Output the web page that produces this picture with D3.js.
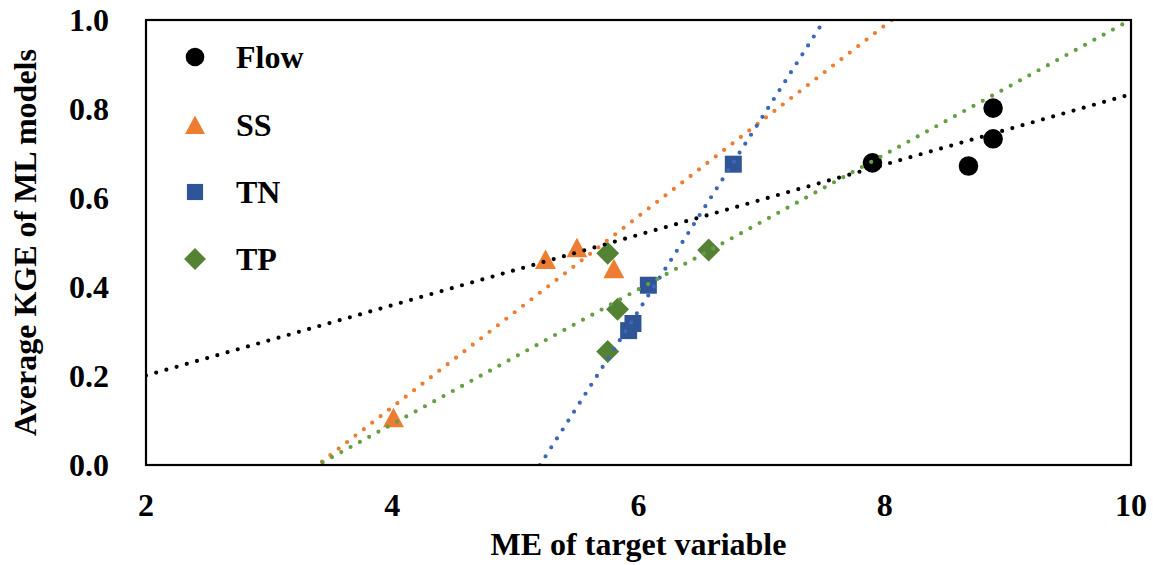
<!DOCTYPE html>
<html>
<head>
<meta charset="utf-8">
<script src="https://cdn.jsdelivr.net/npm/d3@7"></script>
<style>
  html, body { margin: 0; padding: 0; background: #fff; }
  svg text { font-family: "Liberation Serif", "Times New Roman", serif; font-weight: bold; fill: #000; }
</style>
</head>
<body>
<svg id="chart" width="1153" height="565"></svg>
<script>
// Average KGE of ML models vs ME of target variable
const seriesNames = ["Flow", "SS", "TN", "TP"];
const flowME  = [7.90, 8.88, 8.88, 8.68];
const flowKGE = [0.679, 0.802, 0.733, 0.672];
const ssME    = [4.01, 5.245, 5.50, 5.80];
const ssKGE   = [0.106, 0.462, 0.488, 0.441];
const tnME    = [5.92, 5.955, 6.08, 6.77];
const tnKGE   = [0.302, 0.318, 0.404, 0.676];
const tpME    = [5.75, 5.83, 5.75, 6.57];
const tpKGE   = [0.255, 0.350, 0.476, 0.483];
const xTicks = [2, 4, 6, 8, 10];
const yTicks = [0, 0.2, 0.4, 0.6, 0.8, 1.0];

const width = 1153, height = 565;
const margin = { top: 20, right: 22, bottom: 100, left: 146 };

const svg = d3.select("#chart");
svg.selectAll("*").remove();

const x = d3.scaleLinear().domain([2, 10]).range([margin.left, width - margin.right]);
const y = d3.scaleLinear().domain([0, 1]).range([height - margin.bottom, margin.top]);

const series = [
  { name: "Flow", xs: flowME, ys: flowKGE, shape: "circle",   fill: "#000000", line: "#000000" },
  { name: "SS",   xs: ssME,   ys: ssKGE,   shape: "triangle", fill: "#ED7D31", line: "#ED7D31" },
  { name: "TN",   xs: tnME,   ys: tnKGE,   shape: "square",   fill: "#2F5597", line: "#3B67B8" },
  { name: "TP",   xs: tpME,   ys: tpKGE,   shape: "diamond",  fill: "#548235", line: "#64A043" }
];

// marker outlines centred on 0,0
const shapePath = (shape) => {
  if (shape === "circle") return d3.symbol(d3.symbolCircle, Math.PI * 9.8 * 9.8)();
  if (shape === "triangle") return "M0,-10L10.5,9.5L-10.5,9.5Z";
  if (shape === "square") return "M-8.5,-8.5H8.5V8.5H-8.5Z";
  return "M0,-11.5L11.5,0L0,11.5L-11.5,0Z";
};

// least squares fit, like an Excel linear trendline
const fit = (xs, ys) => {
  const mx = d3.mean(xs), my = d3.mean(ys);
  const sxy = d3.sum(xs, (v, i) => (v - mx) * (ys[i] - my));
  const sxx = d3.sum(xs, v => (v - mx) * (v - mx));
  const slope = sxy / sxx;
  return { slope, intercept: my - slope * mx };
};

svg.append("defs").append("clipPath").attr("id", "plotClip")
  .append("rect")
  .attr("x", x(2)).attr("y", y(1))
  .attr("width", x(10) - x(2)).attr("height", y(0) - y(1));

// markers
const markers = svg.append("g");
series.forEach(s => {
  markers.selectAll(null)
    .data(s.xs.map((v, i) => [v, s.ys[i]]))
    .enter()
    .append("path")
    .attr("d", shapePath(s.shape))
    .attr("transform", d => `translate(${x(d[0])},${y(d[1])})`)
    .attr("fill", s.fill);
});

// trendlines on top of the markers
const lines = svg.append("g").attr("clip-path", "url(#plotClip)");
series.forEach(s => {
  const f = fit(s.xs, s.ys);
  const pts = x.domain().map(v => [v, f.intercept + f.slope * v]);
  lines.append("path")
    .attr("d", d3.line().x(d => x(d[0])).y(d => y(d[1]))(pts))
    .attr("fill", "none")
    .attr("stroke", s.line)
    .attr("stroke-width", 4.2)
    .attr("stroke-linecap", "round")
    .attr("stroke-dasharray", "0 10.6");
});

// frame
svg.append("rect")
  .attr("x", x(2)).attr("y", y(1))
  .attr("width", x(10) - x(2)).attr("height", y(0) - y(1))
  .attr("fill", "none").attr("stroke", "#000").attr("stroke-width", 2.2);

// tick labels
svg.append("g").selectAll("text")
  .data(xTicks).enter().append("text")
  .attr("x", d => x(d)).attr("y", y(0) + 51)
  .attr("text-anchor", "middle")
  .style("font-size", "32px")
  .text(d => d);

svg.append("g").selectAll("text")
  .data(yTicks).enter().append("text")
  .attr("x", 109).attr("y", d => y(d))
  .attr("dy", "0.34em")
  .attr("text-anchor", "end")
  .style("font-size", "32px")
  .text(d => d3.format(".1f")(d));

// axis titles
svg.append("text")
  .attr("x", (x(2) + x(10)) / 2).attr("y", 555)
  .attr("text-anchor", "middle")
  .style("font-size", "32px")
  .text("ME of target variable");

svg.append("text")
  .attr("transform", `translate(36,${(y(0) + y(1)) / 2}) rotate(-90)`)
  .attr("text-anchor", "middle")
  .style("font-size", "32px")
  .text("Average KGE of ML models");

// legend
const legend = svg.append("g");
const legendY = [57, 125, 192, 259];
series.forEach((s, i) => {
  legend.append("path")
    .attr("d", shapePath(s.shape))
    .attr("transform", `translate(195,${legendY[i]}) scale(0.95)`)
    .attr("fill", s.fill);
  legend.append("text")
    .attr("x", 236).attr("y", legendY[i])
    .attr("dy", "0.34em")
    .style("font-size", "32px")
    .text(seriesNames[i]);
});
</script>
</body>
</html>
